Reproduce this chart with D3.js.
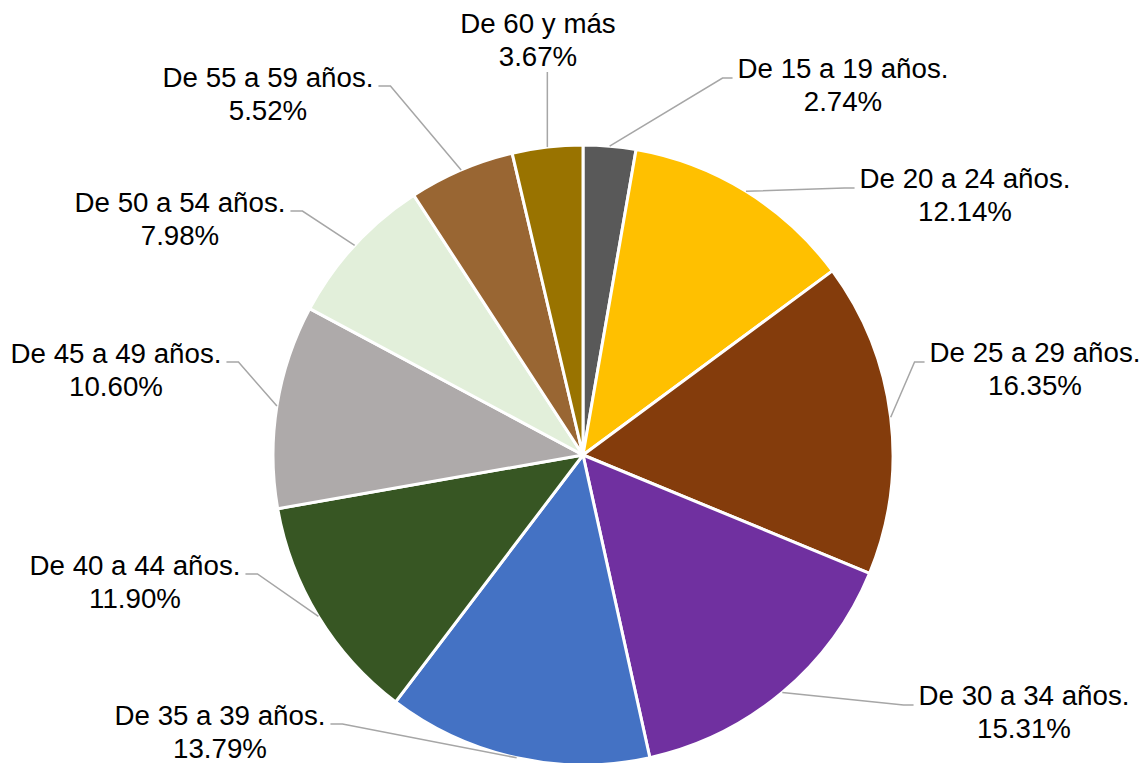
<!DOCTYPE html>
<html>
<head>
<meta charset="utf-8">
<script src="https://cdn.jsdelivr.net/npm/d3@7"></script>
<style>
  body { margin: 0; background: #fff; }
  text { font-family: "Liberation Sans", Arial, sans-serif; font-size: 27.7px; fill: #000; }
</style>
</head>
<body>
<script>
// age groups and shares (%)
const groups = ['De 15 a 19 años.', 'De 20 a 24 años.', 'De 25 a 29 años.', 'De 30 a 34 años.',
  'De 35 a 39 años.', 'De 40 a 44 años.', 'De 45 a 49 años.', 'De 50 a 54 años.',
  'De 55 a 59 años.', 'De 60 y más'];
const shares = [2.74, 12.14, 16.35, 15.31, 13.79, 11.90, 10.60, 7.98, 5.52, 3.67];
const colors = ['#595959', '#ffc000', '#843c0c', '#7030a0', '#4472c4',
  '#375623', '#aeaaaa', '#e2efda', '#996633', '#997300'];

// label placement (text centre x, first line baseline y, side of the leader)
const labelPos = [
  [843, 78, 'right'], [965, 188, 'right'], [1035, 362, 'right'], [1024, 705, 'right'],
  [220, 725, 'left'], [135, 575, 'left'], [116, 363, 'left'], [180, 212, 'left'],
  [268, 87, 'left'], [538, 33, 'top']
];

const width = 1148, height = 763;
const cx = 583, cy = 455, r = 310;

const svg = d3.select('body')
  .append('svg')
  .attr('width', width)
  .attr('height', height);

const pie = d3.pie().sort(null).value(d => d);
const arcs = pie(shares);

const arc = d3.arc().innerRadius(0).outerRadius(r);

const g = svg.append('g').attr('transform', `translate(${cx},${cy})`);

g.selectAll('path')
  .data(arcs)
  .enter()
  .append('path')
  .attr('d', arc)
  .attr('fill', (d, i) => colors[i])
  .attr('stroke', '#fff')
  .attr('stroke-width', 3)
  .attr('stroke-linejoin', 'round');

const lines = svg.append('g');

/* labels */
arcs.forEach((d, i) => {
  const [lx, ly, side] = labelPos[i];
  const t = svg.append('text')
    .attr('text-anchor', 'middle')
    .attr('x', lx)
    .attr('y', ly);
  const first = t.append('tspan').attr('x', lx).text(groups[i]);
  t.append('tspan').attr('x', lx).attr('dy', 33).text(shares[i].toFixed(2) + '%');

  // leader line from the slice edge to the label
  const tw = first.node().getComputedTextLength();
  const a = (d.startAngle + d.endAngle) / 2;
  const px = cx + r * Math.sin(a), py = cy - r * Math.cos(a);
  let pts;
  if (side === 'top') {
    pts = [[px, py], [px, ly + 39]];
  } else if (side === 'right') {
    const ex = lx - tw / 2 - 5;
    pts = [[px, py], [ex - 10, ly], [ex, ly]];
  } else {
    const ex = lx + tw / 2 + 5;
    pts = [[px, py], [ex + 12, ly - 1], [ex, ly - 1]];
  }
  lines.append('path')
    .attr('d', d3.line()(pts))
    .attr('fill', 'none')
    .attr('stroke', '#a6a6a6')
    .attr('stroke-width', 1.5);
});
</script>
</body>
</html>
